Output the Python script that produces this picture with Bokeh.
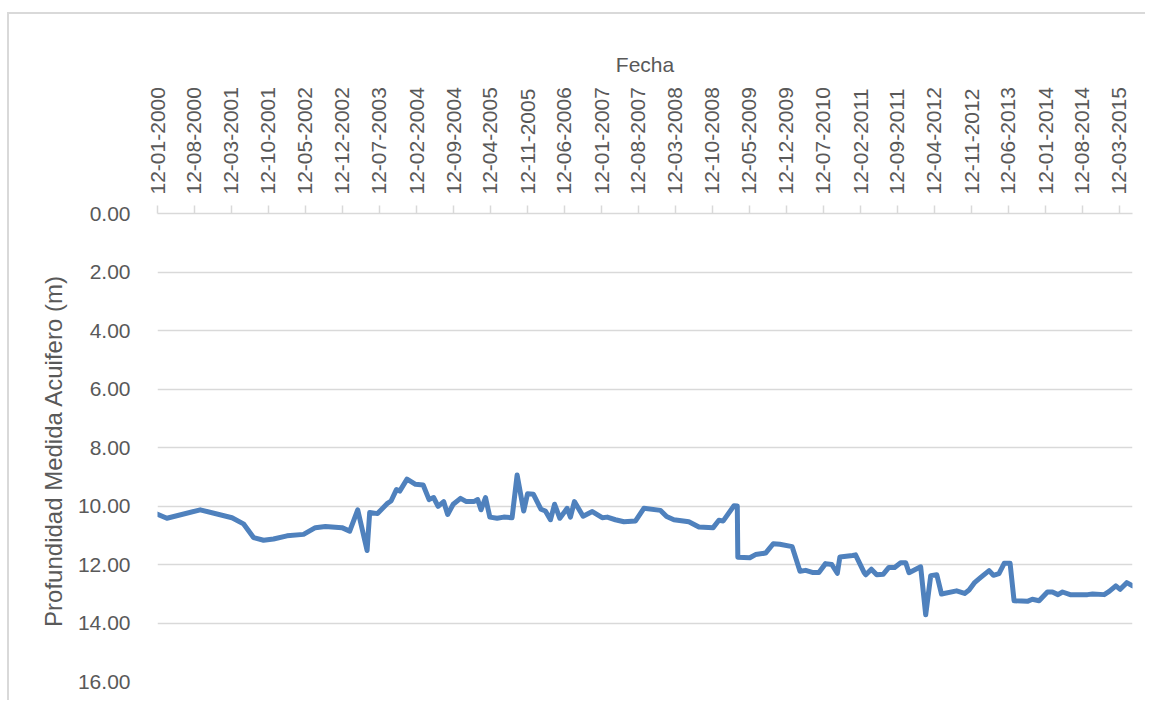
import pandas as pd
from bokeh.plotting import figure
from bokeh.models import Range1d, FixedTicker, DatetimeTickFormatter, PrintfTickFormatter
from bokeh.embed import file_html
from bokeh.resources import INLINE

fechas = [
    "2000-01-12", "2000-03-06", "2000-09-14", "2001-03-16", "2001-05-21", "2001-07-18",
    "2001-09-14", "2001-11-10", "2002-01-27", "2002-05-02", "2002-07-09", "2002-09-05",
    "2002-12-09", "2003-01-23", "2003-03-10", "2003-05-03", "2003-05-18", "2003-07-02",
    "2003-08-26", "2003-09-18", "2003-10-19", "2003-11-07", "2003-12-19", "2004-02-06",
    "2004-03-21", "2004-04-24", "2004-05-20", "2004-06-15", "2004-07-17", "2004-08-09",
    "2004-09-10", "2004-10-22", "2004-11-25", "2005-01-06", "2005-01-29", "2005-02-17",
    "2005-03-15", "2005-04-09", "2005-05-21", "2005-06-28", "2005-08-15", "2005-09-13",
    "2005-10-21", "2005-11-12", "2005-12-16", "2006-01-28", "2006-02-23", "2006-03-24",
    "2006-04-17", "2006-05-17", "2006-06-28", "2006-07-17", "2006-08-09", "2006-09-28",
    "2006-11-20", "2007-01-16", "2007-02-14", "2007-04-02", "2007-05-21", "2007-07-27",
    "2007-09-13", "2007-12-18", "2008-01-22", "2008-03-04", "2008-05-29", "2008-07-26",
    "2008-10-16", "2008-11-18", "2008-12-13", "2009-02-13", "2009-03-04", "2009-03-07",
    "2009-05-15", "2009-06-17", "2009-08-14", "2009-09-27", "2009-11-04", "2010-01-14",
    "2010-02-28", "2010-04-02", "2010-05-10", "2010-06-17", "2010-07-25", "2010-08-30",
    "2010-10-01", "2010-10-16", "2010-12-28", "2011-01-14", "2011-03-04", "2011-03-14",
    "2011-04-15", "2011-05-16", "2011-06-23", "2011-07-25", "2011-08-27", "2011-10-01",
    "2011-10-30", "2011-11-18", "2012-01-24", "2012-02-22", "2012-03-22", "2012-04-26",
    "2012-05-23", "2012-08-18", "2012-10-03", "2012-10-29", "2012-12-01", "2013-01-04",
    "2013-02-21", "2013-03-18", "2013-04-19", "2013-05-19", "2013-06-22", "2013-07-15",
    "2013-09-30", "2013-10-28", "2013-12-06", "2014-01-23", "2014-02-21", "2014-03-25",
    "2014-04-20", "2014-06-03", "2014-09-11", "2014-10-10", "2014-12-16", "2015-01-14",
    "2015-02-21", "2015-03-18", "2015-04-25", "2015-05-28",
]

profundidad = [
    10.28, 10.42, 10.13, 10.40, 10.61, 11.08,
    11.17, 11.13, 11.02, 10.97, 10.74, 10.70,
    10.74, 10.86, 10.13, 11.52, 10.22, 10.26,
    9.92, 9.83, 9.44, 9.49, 9.08, 9.26,
    9.28, 9.78, 9.71, 10.01, 9.85, 10.29,
    9.94, 9.74, 9.85, 9.85, 9.78, 10.13,
    9.71, 10.38, 10.42, 10.38, 10.40, 8.94,
    10.17, 9.58, 9.60, 10.11, 10.17, 10.47,
    9.94, 10.42, 10.08, 10.38, 9.85, 10.35,
    10.19, 10.40, 10.38, 10.47, 10.54, 10.51,
    10.08, 10.15, 10.36, 10.47, 10.54, 10.72,
    10.74, 10.49, 10.51, 9.99, 10.00, 11.75,
    11.77, 11.66, 11.61, 11.29, 11.31, 11.39,
    12.23, 12.20, 12.27, 12.27, 11.97, 12.00,
    12.30, 11.74, 11.69, 11.67, 12.27, 12.35,
    12.16, 12.35, 12.33, 12.10, 12.10, 11.94,
    11.94, 12.28, 12.08, 13.72, 12.38, 12.35,
    13.01, 12.90, 12.99, 12.87, 12.61, 12.44,
    12.21, 12.37, 12.31, 11.96, 11.96, 13.24,
    13.26, 13.19, 13.24, 12.94, 12.94, 13.03,
    12.94, 13.03, 13.03, 13.01, 13.03, 12.92,
    12.73, 12.85, 12.62, 12.73,
]

x_tick_labels = [
    "12-01-2000", "12-08-2000", "12-03-2001", "12-10-2001", "12-05-2002", "12-12-2002",
    "12-07-2003", "12-02-2004", "12-09-2004", "12-04-2005", "12-11-2005", "12-06-2006",
    "12-01-2007", "12-08-2007", "12-03-2008", "12-10-2008", "12-05-2009", "12-12-2009",
    "12-07-2010", "12-02-2011", "12-09-2011", "12-04-2012", "12-11-2012", "12-06-2013",
    "12-01-2014", "12-08-2014", "12-03-2015",
]

y_ticks = [0, 2, 4, 6, 8, 10, 12, 14, 16]

x_title = "Fecha"
y_title = "Profundidad Medida  Acuifero (m)"

dates = pd.to_datetime(fechas)
tick_dates = pd.to_datetime(x_tick_labels, format="%d-%m-%Y")
tick_ms = [float(t.value // 10**6) for t in tick_dates]

TEXT = "#595959"
GRID = "#d9d9d9"
FONT = "Liberation Sans"

p = figure(
    width=1138, height=688,
    x_axis_type="datetime", x_axis_location="above",
    x_range=Range1d(dates[0].to_pydatetime(), dates[-1].to_pydatetime()),
    y_range=Range1d(16, 0),
    output_backend="svg", toolbar_location=None,
    min_border_left=148, min_border_top=199, min_border_right=15, min_border_bottom=21,
)
p.styles = {
    "margin-top": "12px", "margin-left": "7px",
    "border-top": "2px solid #d9d9d9", "border-left": "2px solid #d9d9d9",
}
p.outline_line_color = None
p.background_fill_color = "white"
p.border_fill_color = "white"

p.line(dates, profundidad, line_color="#4f81bd", line_width=5, line_join="round", line_cap="round")

# x axis (top)
xa = p.xaxis[0]
xa.ticker = FixedTicker(ticks=tick_ms)
fmt = "%d-%m-%Y"
xa.formatter = DatetimeTickFormatter(
    microseconds=fmt, milliseconds=fmt, seconds=fmt, minsec=fmt, minutes=fmt,
    hourmin=fmt, hours=fmt, days=fmt, months=fmt, years=fmt,
)
xa.major_label_orientation = "vertical"
xa.major_label_text_font = FONT
xa.major_label_text_font_size = "21px"
xa.major_label_text_color = TEXT
xa.major_label_standoff = 11
xa.axis_line_color = GRID
xa.axis_line_width = 1.5
xa.major_tick_line_color = GRID
xa.major_tick_line_width = 1.5
xa.major_tick_out = 8
xa.major_tick_in = 0
xa.minor_tick_line_color = None
xa.axis_label = x_title
xa.axis_label_text_font = FONT
xa.axis_label_text_font_size = "21px"
xa.axis_label_text_font_style = "normal"
xa.axis_label_text_color = TEXT
xa.axis_label_standoff = 8

# y axis
ya = p.yaxis[0]
ya.ticker = FixedTicker(ticks=y_ticks)
ya.formatter = PrintfTickFormatter(format="%.2f")
ya.major_label_text_font = FONT
ya.major_label_text_font_size = "21px"
ya.major_label_text_color = TEXT
ya.major_label_standoff = 21
ya.axis_line_color = None
ya.major_tick_line_color = None
ya.minor_tick_line_color = None
ya.axis_label = y_title
ya.axis_label_text_font = FONT
ya.axis_label_text_font_size = "24px"
ya.axis_label_text_font_style = "normal"
ya.axis_label_text_color = TEXT
ya.axis_label_standoff = 8

p.xgrid.visible = False
p.ygrid.ticker = FixedTicker(ticks=y_ticks)
p.ygrid.grid_line_color = GRID
p.ygrid.grid_line_width = 1.5

open("out.html", "w").write(file_html(p, INLINE))
